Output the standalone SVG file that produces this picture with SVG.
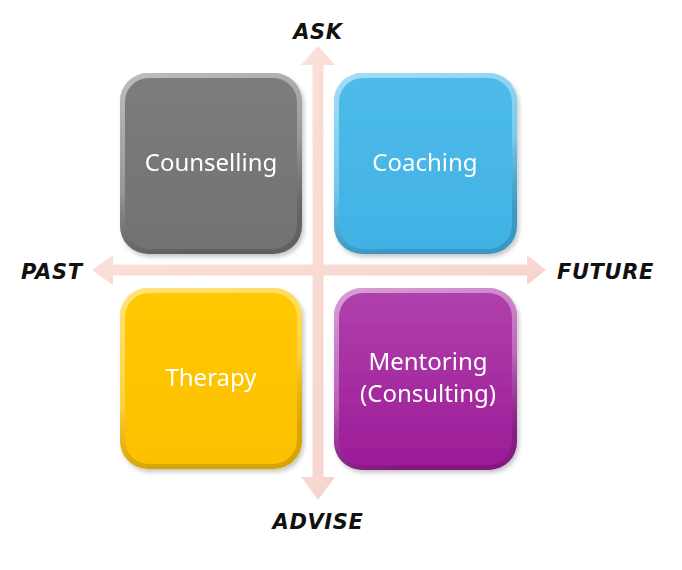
<svg xmlns="http://www.w3.org/2000/svg" width="682" height="570" viewBox="0 0 682 570">
<defs>
<style>
.lbl{font-family:"Noto Sans","Open Sans",sans-serif;font-size:24px;fill:#ffffff;text-anchor:middle}
.ax{font-family:"DejaVu Sans","Liberation Sans",sans-serif;font-size:21px;font-weight:bold;font-style:italic;fill:#111111;letter-spacing:0.6px}
.arrow{fill:url(#arr);}
</style>
<linearGradient id="arr" x1="0" y1="0" x2="1" y2="1">
<stop offset="0" stop-color="#fce3dc"/><stop offset="1" stop-color="#f5d2ca"/>
</linearGradient>
<linearGradient id="gGray" x1="0" y1="0" x2="0" y2="1"><stop offset="0" stop-color="#7c7c7c"/><stop offset="1" stop-color="#727272"/></linearGradient>
<linearGradient id="gBlue" x1="0" y1="0" x2="0" y2="1"><stop offset="0" stop-color="#4dbbe9"/><stop offset="1" stop-color="#41b2e5"/></linearGradient>
<linearGradient id="gYel" x1="0" y1="0" x2="0" y2="1"><stop offset="0" stop-color="#ffc800"/><stop offset="1" stop-color="#fcc000"/></linearGradient>
<linearGradient id="gPur" x1="0" y1="0" x2="0" y2="1"><stop offset="0" stop-color="#b040ac"/><stop offset="1" stop-color="#9c1c98"/></linearGradient>
<linearGradient id="bev" x1="0" y1="0" x2="0.3" y2="1">
<stop offset="0" stop-color="#ffffff" stop-opacity="0.5"/><stop offset="0.6" stop-color="#ffffff" stop-opacity="0.25"/><stop offset="1" stop-color="#000000" stop-opacity="0.15"/>
</linearGradient>
<filter id="sh" x="-10%" y="-10%" width="125%" height="125%"><feDropShadow dx="2" dy="3" stdDeviation="2" flood-color="#000" flood-opacity="0.22"/></filter>
</defs>
<rect width="682" height="570" fill="#ffffff"/>
<g id="connectors">
<polygon class="arrow" points="318,46 335,65 323.5,65 323.5,477 335,477 318,500 301,477 312.5,477 312.5,65 301,65"/>
<polygon class="arrow" points="92,270 113,255 113,264.5 527,264.5 527,255 546,270 527,285 527,275.5 113,275.5 113,285"/>
</g>
<g id="counselling" filter="url(#sh)">
<rect x="120" y="73" width="182" height="181" rx="28" fill="url(#gGray)"/>
<rect x="120" y="73" width="182" height="181" rx="28" fill="url(#bev)"/>
<rect x="125" y="78" width="172" height="171" rx="24" fill="url(#gGray)"/>
<text class="lbl" x="211" y="171">Counselling</text>
</g>
<g id="coaching" filter="url(#sh)">
<rect x="334" y="73" width="183" height="181" rx="28" fill="url(#gBlue)"/>
<rect x="334" y="73" width="183" height="181" rx="28" fill="url(#bev)"/>
<rect x="339" y="78" width="173" height="171" rx="24" fill="url(#gBlue)"/>
<text class="lbl" x="425" y="171">Coaching</text>
</g>
<g id="therapy" filter="url(#sh)">
<rect x="120" y="288" width="182" height="181" rx="28" fill="url(#gYel)"/>
<rect x="120" y="288" width="182" height="181" rx="28" fill="url(#bev)"/>
<rect x="125" y="293" width="172" height="171" rx="24" fill="url(#gYel)"/>
<text class="lbl" x="211" y="386">Therapy</text>
</g>
<g id="mentoring" filter="url(#sh)">
<rect x="334" y="288" width="183" height="182" rx="28" fill="url(#gPur)"/>
<rect x="334" y="288" width="183" height="182" rx="28" fill="url(#bev)"/>
<rect x="339" y="293" width="173" height="172" rx="24" fill="url(#gPur)"/>
<text class="lbl" x="428" y="370">Mentoring</text>
<text class="lbl" x="428" y="402">(Consulting)</text>
</g>
<g id="axis-labels">
<text class="ax" x="318" y="39" text-anchor="middle">ASK</text>
<text class="ax" x="21" y="279">PAST</text>
<text class="ax" x="557" y="279">FUTURE</text>
<text class="ax" x="318" y="529" text-anchor="middle">ADVISE</text>
</g>
</svg>
